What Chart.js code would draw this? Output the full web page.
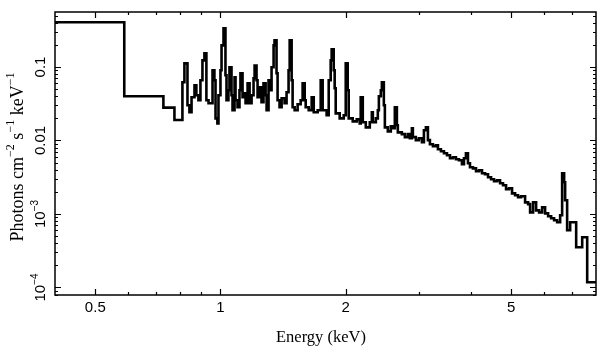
<!DOCTYPE html>
<html><head><meta charset="utf-8">
<script src="https://cdn.jsdelivr.net/npm/chart.js@4.4.1/dist/chart.umd.min.js"></script>
<style>html,body{margin:0;padding:0;background:#fff;overflow:hidden}canvas{display:block}</style>
</head><body>
<canvas id="c" width="609" height="357"></canvas>
<script>
// Bin lower edges (keV) and flux (photons cm^-2 s^-1 keV^-1)
const binLo = [0.40,0.587,0.729,0.775,0.810,0.819,0.833,0.842,0.852,0.866,0.875,0.885,0.895,0.905,0.915,0.925,0.936,0.957,0.967,0.973,0.983,0.989,
1.000,1.006,1.017,1.028,1.034,1.045,1.051,1.063,1.069,1.081,1.087,1.099,1.111,1.117,1.130,1.142,1.149,1.162,1.175,1.188,1.201,1.208,1.221,1.228,1.242,1.255,1.269,1.284,1.291,1.305,1.320,1.327,1.342,1.349,1.364,1.372,1.387,1.403,1.426,1.442,1.458,1.467,1.483,1.491,1.508,1.533,1.559,1.576,1.594,1.603,1.630,1.657,1.676,1.713,1.742,1.761,1.800,1.821,1.841,1.851,1.872,1.882,1.893,1.935,1.979,
2.001,2.023,2.034,2.080,2.127,2.162,2.174,2.199,2.236,2.286,2.312,2.325,2.364,2.390,2.404,2.430,2.444,2.471,2.485,2.526,2.568,2.597,2.626,2.656,2.670,2.730,2.776,2.822,2.854,2.886,2.902,2.950,
3.000,3.051,3.085,3.119,3.154,3.189,3.243,3.297,3.334,3.390,3.447,3.505,3.564,3.623,3.684,3.746,3.808,3.851,3.893,3.937,3.981,4.048,4.117,4.186,4.256,4.327,4.400,4.474,4.549,4.625,4.703,4.781,4.862,4.943,
5.026,5.111,5.196,5.284,5.402,5.493,5.554,5.647,5.742,5.838,5.936,6.035,6.137,6.240,6.344,6.451,6.559,6.632,6.706,6.743,6.818,6.933,7.168,7.411,7.619];
const flux = [0.406,0.040,0.028,0.019,0.0619,0.112,0.0301,0.0242,0.0387,0.0564,0.0412,0.0352,0.0659,0.123,0.154,0.0352,0.0321,0.0902,0.0659,0.0200,0.0171,0.0412,
0.0902,0.197,0.336,0.0771,0.0352,0.0482,0.0991,0.0412,0.0258,0.0724,0.0352,0.0283,0.0482,0.0821,0.0387,0.0439,0.0321,0.0600,0.0321,0.0412,0.0702,0.105,0.0659,0.0387,0.0529,0.0331,0.0600,0.0412,0.0258,0.0659,0.0482,0.0991,0.197,0.231,0.0821,0.0352,0.0283,0.0375,0.0321,0.0453,0.0902,0.231,0.0659,0.0283,0.0258,0.0311,0.0352,0.0600,0.0352,0.0283,0.0258,0.0387,0.0242,0.0258,0.0659,0.0258,0.0220,0.0659,0.123,0.174,0.0902,0.0513,0.0234,0.0200,0.0220,
0.112,0.0482,0.0200,0.0182,0.0194,0.0171,0.0387,0.0177,0.0151,0.0177,0.0242,0.0177,0.0200,0.0258,0.0399,0.0482,0.0619,0.0301,0.0151,0.0133,0.0156,0.0147,0.0283,0.0161,0.0129,0.0122,0.0111,0.0122,0.0107,0.0147,0.0111,0.0101,
0.0107,0.00945,0.0138,0.0151,0.0101,0.00888,0.00834,0.00860,0.00759,0.00713,0.00670,0.00629,0.00573,0.00591,0.00555,0.00538,0.00475,0.00573,0.00670,0.00490,0.00432,0.00418,0.00381,0.00393,0.00358,0.00347,0.00316,0.00297,0.00279,0.00287,0.00262,0.00246,0.00217,0.00224,
0.00191,0.00180,0.00169,0.00174,0.00144,0.00136,0.00105,0.00144,0.00112,0.00105,0.00123,0.00102,0.000930,0.000874,0.000821,0.000771,0.000960,0.00358,0.00270,0.00154,0.000600,0.000771,0.000352,0.000482,0.000118];
const binHiLast = 8.0;

const xRange = [0.4, 8.0];
const yRange = [7.9e-5, 0.56];
const xMajorTicks = [0.5, 1, 2, 5];
const xTickLabels = ['0.5', '1', '2', '5'];
const xMinorTicks = [0.6, 0.7, 0.8, 0.9, 3, 4, 6, 7];
const yMajorTicks = [1e-4, 1e-3, 1e-2, 1e-1];
const yTickLabels = [['10','\u22124'], ['10','\u22123'], ['0.01',''], ['0.1','']];
const xTitle = 'Energy (keV)';
const yTitle = [['Photons cm',''],['','\u22122'],[' s',''],['','\u22121'],[' keV',''],['','\u22121']];

const points = binLo.map((e, i) => ({x: e, y: flux[i]}));
points.push({x: binHiLast, y: flux[flux.length - 1]});

function yMinorTicks() {
  const out = [];
  for (let d = -5; d <= 0; d++) for (let k = 2; k <= 9; k++) {
    const v = k * Math.pow(10, d);
    if (v > yRange[0] && v < yRange[1]) out.push(v);
  }
  return out;
}

function drawRich(ctx, segs, x, y, size, family, rotate) {
  ctx.save();
  ctx.translate(x, y);
  if (rotate) ctx.rotate(-Math.PI / 2);
  const supSize = Math.round(size * 0.68);
  let total = 0;
  const widths = segs.map(s => {
    ctx.font = size + 'px ' + family; const w1 = ctx.measureText(s[0]).width;
    ctx.font = supSize + 'px ' + family; const w2 = s[1] ? ctx.measureText(s[1]).width : 0;
    total += w1 + w2; return [w1, w2];
  });
  let cx = -total / 2;
  ctx.fillStyle = '#000';
  ctx.textBaseline = 'middle';
  ctx.textAlign = 'left';
  segs.forEach((s, i) => {
    ctx.font = size + 'px ' + family;
    ctx.fillText(s[0], cx, 0); cx += widths[i][0];
    if (s[1]) { ctx.font = supSize + 'px ' + family; ctx.fillText(s[1], cx, -size * 0.38); cx += widths[i][1]; }
  });
  ctx.restore();
}

const framePlugin = {
  id: 'frame',
  afterDraw(chart) {
    const {ctx, chartArea: a, scales} = chart;
    const xs = scales.x, ys = scales.y;
    ctx.save();
    ctx.strokeStyle = '#000';
    ctx.lineWidth = 1.5;
    ctx.strokeRect(a.left, a.top, a.right - a.left, a.bottom - a.top);
    ctx.lineWidth = 1.2;
    ctx.beginPath();
    const xt = (v, len) => { const p = Math.round(xs.getPixelForValue(v)) + 0.5;
      ctx.moveTo(p, a.bottom); ctx.lineTo(p, a.bottom - len); ctx.moveTo(p, a.top); ctx.lineTo(p, a.top + len); };
    const yt = (v, len) => { const p = Math.round(ys.getPixelForValue(v)) + 0.5;
      ctx.moveTo(a.left, p); ctx.lineTo(a.left + len, p); ctx.moveTo(a.right, p); ctx.lineTo(a.right - len, p); };
    xMajorTicks.forEach(v => xt(v, 6));
    xMinorTicks.forEach(v => xt(v, 3));
    yMajorTicks.forEach(v => yt(v, 6));
    yMinorTicks().forEach(v => yt(v, 3));
    ctx.stroke();
    // x tick labels
    ctx.fillStyle = '#000';
    ctx.font = '15px "Liberation Sans", Arial, sans-serif';
    ctx.textAlign = 'center'; ctx.textBaseline = 'middle';
    xMajorTicks.forEach((v, i) => ctx.fillText(xTickLabels[i], xs.getPixelForValue(v), a.bottom + 13));
    // y tick labels (rotated)
    yMajorTicks.forEach((v, i) => {
      drawRich(ctx, [yTickLabels[i]], a.left - 14, ys.getPixelForValue(v), 15, '"Liberation Sans", Arial, sans-serif', true);
    });
    // titles
    ctx.font = '16.5px "Liberation Serif", "Times New Roman", serif';
    ctx.textAlign = 'center'; ctx.textBaseline = 'middle';
    ctx.fillText(xTitle, 321, 338);
    drawRich(ctx, yTitle, 18, 157, 18, '"Liberation Serif", "Times New Roman", serif', true);
    ctx.restore();
  }
};

new Chart(document.getElementById('c'), {
  type: 'line',
  data: { datasets: [{
    data: points, stepped: 'before', borderColor: '#000', borderWidth: 2.6,
    pointRadius: 0, fill: false, tension: 0, borderJoinStyle: 'miter'
  }]},
  options: {
    responsive: false, animation: false, events: [],
    layout: { padding: { left: 55, top: 12, right: 13, bottom: 62 } },
    plugins: { legend: { display: false }, tooltip: { enabled: false } },
    scales: {
      x: { type: 'logarithmic', min: xRange[0], max: xRange[1], display: false },
      y: { type: 'logarithmic', min: yRange[0], max: yRange[1], display: false }
    }
  },
  plugins: [framePlugin]
});
</script>
</body></html>
